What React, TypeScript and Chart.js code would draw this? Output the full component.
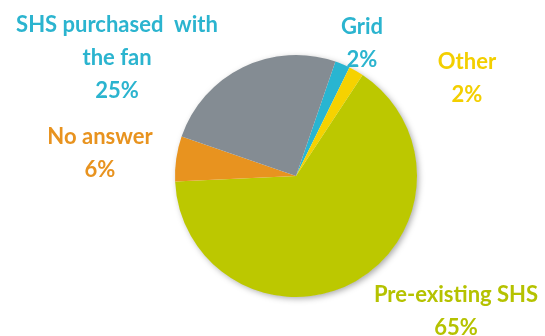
import React, { useEffect, useRef } from "react";
import { Chart, registerables } from "chart.js";

Chart.register(...registerables);

const categories = ["Grid", "Other", "Pre-existing SHS", "No answer", "SHS purchased with the fan"];
const values = [2, 2, 65, 6, 25];
const labelLines = [["Grid", "2%"], ["Other", "2%"], ["Pre-existing SHS", "65%"], ["No answer", "6%"], ["SHS purchased  with", "the fan", "25%"]];
const sliceColors = ["#29B5D1", "#F6D200", "#BCC800", "#E8931F", "#848C93"];
const textColors = ["#2BB4CF", "#F3CF00", "#B5C200", "#E8931F", "#2BB4CF"];
// label anchor (center of first line), layout only
const labelAnchors = [
  [362, 27],
  [467, 62],
  [456, 295],
  [100, 137],
  [117, 25],
];

const shadowPlugin = {
  id: "pieShadow",
  beforeDatasetsDraw(chart: any) {
    const meta = chart.getDatasetMeta(0);
    const arc = meta.data[0];
    if (!arc) return;
    const { x, y, outerRadius } = arc.getProps(["x", "y", "outerRadius"], true);
    const ctx = chart.ctx;
    ctx.save();
    ctx.shadowColor = "rgba(0,0,0,0.35)";
    ctx.shadowBlur = 6;
    ctx.shadowOffsetX = 2;
    ctx.shadowOffsetY = 2;
    ctx.fillStyle = "#ffffff";
    ctx.beginPath();
    ctx.arc(x, y, outerRadius - 0.5, 0, Math.PI * 2);
    ctx.fill();
    ctx.restore();
  },
};

const labelPlugin = {
  id: "sliceLabels",
  afterDraw(chart: any) {
    const ctx = chart.ctx;
    ctx.save();
    ctx.font = "bold 22px Lato, 'Open Sans', sans-serif";
    ctx.textAlign = "center";
    ctx.textBaseline = "middle";
    labelLines.forEach((lines, i) => {
      const [ax, ay] = labelAnchors[i];
      ctx.fillStyle = textColors[i];
      lines.forEach((t, j) => {
        ctx.fillText(t, ax, ay + j * 33);
      });
    });
    ctx.restore();
  },
};

export default function App() {
  const ref = useRef<HTMLCanvasElement>(null);
  useEffect(() => {
    if (!ref.current) return;
    const chart = new Chart(ref.current, {
      type: "pie",
      data: {
        labels: categories,
        datasets: [
          {
            data: values,
            backgroundColor: sliceColors,
            borderWidth: 0,
          },
        ],
      },
      options: {
        responsive: false,
        animation: false,
        rotation: 19,
        layout: { padding: { left: 174, right: 127, top: 55, bottom: 39 } },
        plugins: {
          legend: { display: false },
          tooltip: { enabled: false },
        },
      },
      plugins: [shadowPlugin, labelPlugin],
    });
    return () => chart.destroy();
  }, []);
  return (
    <div style={{ position: "absolute", left: 0, top: 0, width: 545, height: 336, background: "#fff" }}>
      <canvas ref={ref} width={545} height={336} style={{ width: 545, height: 336 }} />
    </div>
  );
}
